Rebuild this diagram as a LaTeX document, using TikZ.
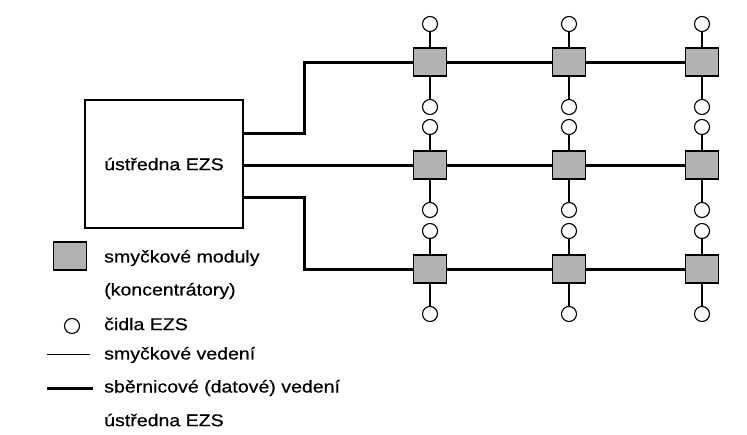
\documentclass[tikz,border=0pt]{standalone}
\usepackage{fontspec}
\setmainfont[FakeStretch=1.15,FakeBold=0.5]{Liberation Sans}
\begin{document}
\begin{tikzpicture}[x=1pt,y=-1pt,
    modul/.style={draw,line width=1.3pt,fill=gray!60,minimum width=33pt,minimum height=28pt,inner sep=0pt},
    cidlo/.style={draw,circle,line width=1.1pt,minimum size=15pt,inner sep=0pt},
    smycka/.style={line width=1.3pt},
    sbernice/.style={line width=3pt},
    popis/.style={anchor=west,inner sep=0pt,font=\fontsize{17}{21}\selectfont}]
    \useasboundingbox (0,0) rectangle (747,434);
    % 绘制中央控制器
    \node[draw,line width=1.3pt,minimum width=158pt,minimum height=128pt,font=\fontsize{17}{21}\selectfont] (ezs) at (164,164) {ústředna EZS};
    
    % 绘制模块和传感器
    \foreach \r/\y in {1/62,2/165,3/269}{
        \foreach \c/\x in {1/430,2/569,3/702}{
            \node[modul] (m\r\c) at (\x,\y) {};
            \node[cidlo] (h\r\c) at (\x,\y-38) {};
            \node[cidlo] (d\r\c) at (\x,\y+45) {};
            \draw[smycka] (m\r\c) -- (h\r\c);
            \draw[smycka] (m\r\c) -- (d\r\c);
        }
        \draw[sbernice] (m\r1) -- (m\r2) -- (m\r3);
    }
    
    % 绘制总线
    \draw[sbernice] ([yshift=31pt]ezs.east) -- ++(61,0) |- (m11);
    \draw[sbernice] (ezs.east |- m21) -- (m21);
    \draw[sbernice] ([yshift=-33pt]ezs.east) -- ++(61,0) |- (m31);
    
    % 绘制图例
    \node[modul] (lm) at (70,256) {};
    \node[popis] (lmt) at (104,258) {smyčkové moduly};
    \node[popis] (lkt) at (104,291) {(koncentrátory)};
    \node[cidlo] (lc) at (72,326) {};
    \node[popis] (lct) at (104,324) {čidla EZS};
    \coordinate (ls1) at (47,354);
    \coordinate (ls2) at (90,354);
    \draw[line width=0.9pt] (ls1) -- (ls2);
    \node[popis] (lst) at (104,355) {smyčkové vedení};
    \coordinate (lb1) at (47,388);
    \coordinate (lb2) at (93,388);
    \draw[sbernice] (lb1) -- (lb2);
    \node[popis] (lbt) at (104,388) {sběrnicové (datové) vedení};
    \node[popis] (lut) at (104,420) {ústředna EZS};
\end{tikzpicture}
\end{document}
